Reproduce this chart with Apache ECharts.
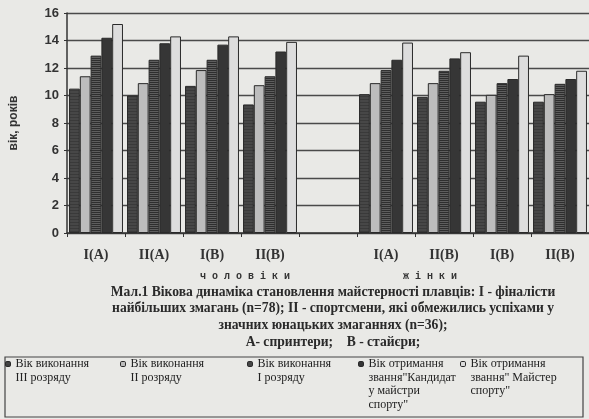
<!DOCTYPE html>
<html>
<head>
<meta charset="utf-8">
<script src="https://cdn.jsdelivr.net/npm/echarts@6/dist/echarts.min.js"></script>
<style>
html,body{margin:0;padding:0;background:#e9e9e6;}
#c{width:589px;height:419px;}
</style>
</head>
<body>
<div id="c"></div>
<script>
// ---- data ----
const categories = ['I(A)', 'II(A)', 'I(B)', 'II(B)', '', 'I(A)', 'II(B)', 'I(B)', 'II(B)'];
const rank3 = [10.5, 10.0, 10.7, 9.35, null, 10.1, 9.9, 9.55, 9.55];
const rank2 = [11.4, 10.9, 11.85, 10.75, null, 10.9, 10.9, 10.05, 10.1];
const rank1 = [12.9, 12.6, 12.6, 11.4, null, 11.85, 11.8, 10.9, 10.85];
const candidate = [14.2, 13.8, 13.7, 13.2, null, 12.6, 12.7, 11.2, 11.2];
const master = [15.2, 14.3, 14.3, 13.9, null, 13.85, 13.15, 12.9, 11.8];
const seriesNames = [
  'Вік виконання\nІІІ розряду',
  'Вік виконання\nІІ розряду',
  'Вік виконання\nІ розряду',
  'Вік отримання\nзвання"Кандидат\nу майстри\nспорту"',
  'Вік отримання\nзвання" Майстер\nспорту"'
];
const yAxisName = 'вік, років';
const groupLabels = ['ч о л о в і к и', 'ж і н к и'];
const captionLines = [
  'Мал.1 Вікова динаміка становлення майстерності плавців: І - фіналісти',
  'найбільших змагань (n=78); ІІ - спортсмени, які обмежились успіхами у',
  'значних юнацьких змаганнях (n=36);',
  'А- спринтери;    В - стайєри;'
];

// ---- styles ----
function stripes(bg, fg, h, period) {
  const c = document.createElement('canvas');
  c.width = 4; c.height = period;
  const g = c.getContext('2d');
  g.fillStyle = bg; g.fillRect(0, 0, 4, period);
  g.fillStyle = fg; g.fillRect(0, 0, 4, h);
  return { image: c, repeat: 'repeat' };
}
const fills = [
  stripes('#474747', '#3a3a3a', 1, 3),
  '#bdbdbd',
  stripes('#5e5e5e', '#2e2e2e', 1, 2),
  '#363636',
  '#dddddd'
];
const dataSets = [rank3, rank2, rank1, candidate, master];
const legendLefts = [5, 120, 247, 358, 460];
const LH = 13.5;
const ICON_Y = 364;

const series = dataSets.map((d, i) => ({
  name: seriesNames[i],
  type: 'bar',
  data: d,
  barGap: '0%',
  barCategoryGap: '7%',
  itemStyle: { color: fills[i], borderColor: '#2a2a2a', borderWidth: 1 },
  emphasis: { disabled: true }
}));

const legends = seriesNames.map((n, i) => {
  const lines = n.split('\n').length;
  return {
    data: [n],
    left: legendLefts[i],
    top: ICON_Y - (2 * lines - 1) * LH / 2,
    padding: 0,
    itemWidth: 5,
    itemHeight: 5,
    selectedMode: false,
    formatter: name => '\n'.repeat(lines - 1) + name,
    itemStyle: { borderColor: '#2a2a2a', borderWidth: 1 },
    textStyle: {
      fontFamily: 'Liberation Serif', fontSize: 12, color: '#222',
      lineHeight: LH
    }
  };
});

const chart = echarts.init(document.getElementById('c'), null, { renderer: 'canvas' });
chart.setOption({
  backgroundColor: '#e9e9e6',
  animation: false,
  grid: { left: 67, right: 0, top: 13, bottom: 186 },
  xAxis: {
    type: 'category',
    data: categories,
    axisLine: { lineStyle: { color: '#333', width: 1.5 } },
    axisTick: { show: true, length: 4, lineStyle: { color: '#333' } },
    axisLabel: { margin: 15, fontFamily: 'Liberation Serif', fontSize: 14, fontWeight: 'bold', color: '#333' }
  },
  yAxis: {
    type: 'value',
    min: 0, max: 16, interval: 2,
    name: yAxisName,
    nameLocation: 'middle',
    nameGap: 47,
    nameTextStyle: { fontFamily: 'Liberation Sans', fontSize: 12, fontWeight: 'bold', color: '#333' },
    axisLine: { show: true, lineStyle: { color: '#333', width: 1.5 } },
    axisTick: { show: true, length: 3, lineStyle: { color: '#333' } },
    axisLabel: { margin: 8, fontFamily: 'Liberation Sans', fontSize: 13, fontWeight: 'bold', color: '#333' },
    splitLine: { show: true, lineStyle: { color: '#4a4a4a', width: 1.3 } }
  },
  legend: legends,
  series: series,
  graphic: [
    { type: 'text', left: 200, top: 271, style: { text: groupLabels[0], font: 'bold 10px "Liberation Mono"', fill: '#333' } },
    { type: 'text', left: 403, top: 271, style: { text: groupLabels[1], font: 'bold 10px "Liberation Mono"', fill: '#333' } },
    ...captionLines.map((t, i) => ({
      type: 'text', x: 333, y: [292, 308, 325, 342][i],
      style: { text: t, font: 'bold 13.6px "Liberation Serif"', fill: '#2a2a2a', align: 'center', verticalAlign: 'middle' }
    })),
    { type: 'rect', shape: { x: 5, y: 357, width: 578, height: 60 }, style: { fill: 'none', stroke: '#444', lineWidth: 1.2 }, z: -1 }
  ]
});
</script>
</body>
</html>
